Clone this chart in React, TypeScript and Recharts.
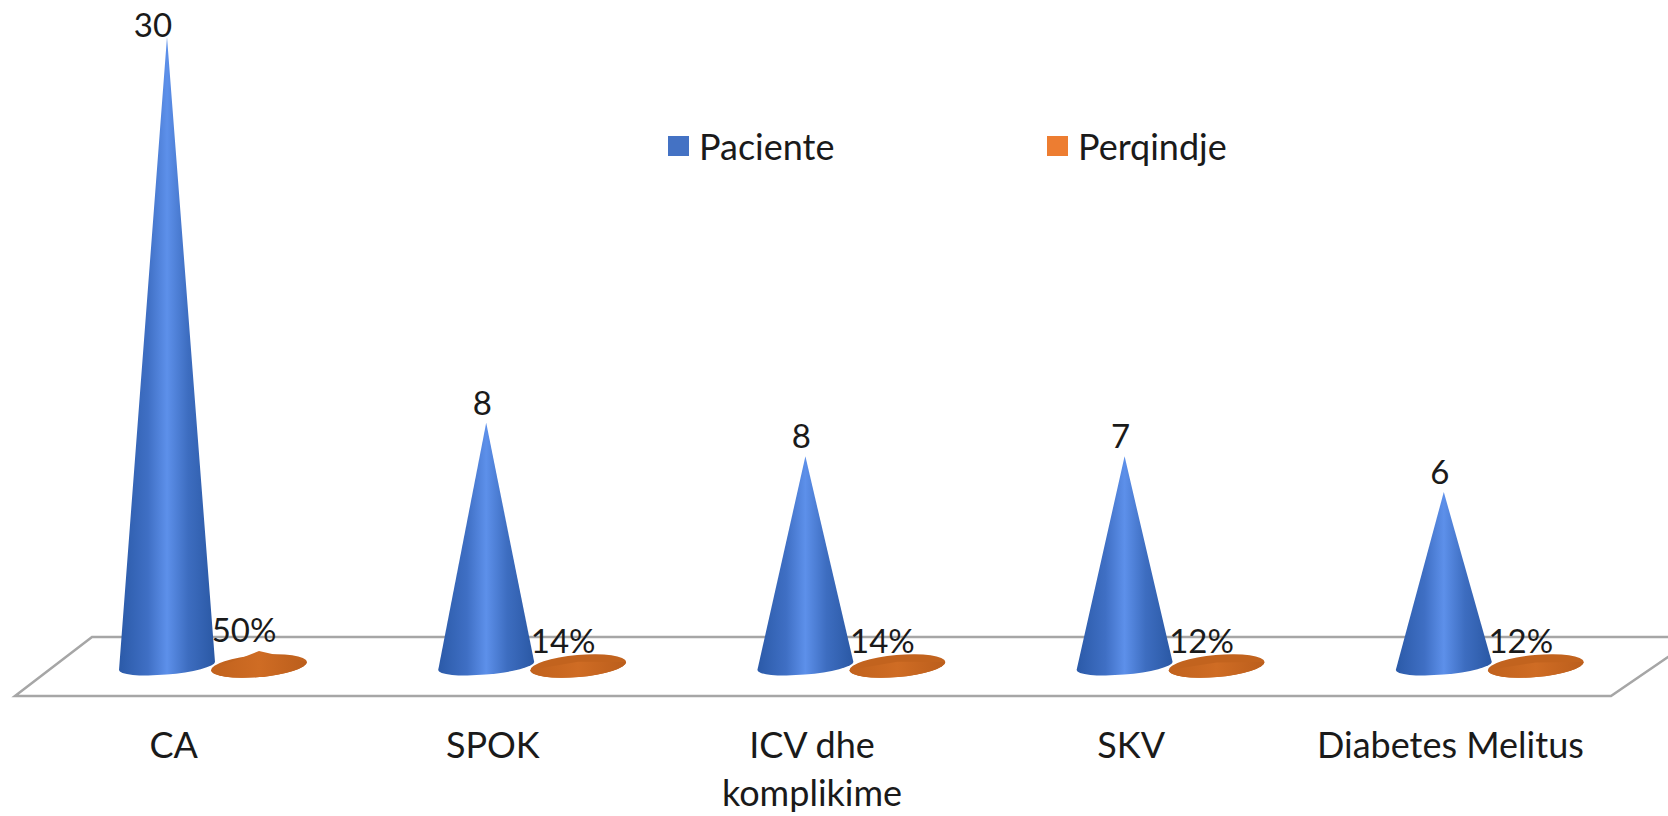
import { BarChart, Bar, XAxis, YAxis, Legend, LabelList, Customized } from 'recharts';

const categories = ['CA', 'SPOK', 'ICV dhe komplikime', 'SKV', 'Diabetes Melitus'];
// Printed labels. The reference's cones are not proportional to them (two "8"s differ in height),
// so the cone heights below are read from the picture separately.
const patientLabels = [30, 8, 8, 7, 6];
const patientHeights = [30, 11.6, 10, 10, 8.3];
const percentages = [50, 14, 14, 12, 12];

const chartData = categories.map((name, i) => ({
  name,
  patients: patientHeights[i],
  patientLabel: patientLabels[i],
  percent: percentages[i],
}));

const FONT = 'Lato, sans-serif';
const TEXT_COLOR = '#1a1a1a';
const WIDTH = 1668;
const HEIGHT = 816;

const cone = (cx: number, tipY: number, baseY: number, r: number, ry: number) => {
  const rightY = baseY - 4;
  const leftY = baseY + 4;
  const sides = `L${cx + r},${rightY} A${r},${ry} -5 0 1 ${cx - r},${leftY} Z`;
  return `M${cx},${tipY} ${sides}`;
};

const BlueCone = ({ x, y, width, height }: any) => {
  const cx = x + width / 2;
  return <path d={cone(cx, y, y + height, 48, 8.5)} fill="url(#blueCone)" />;
};

const OrangeCone = ({ x, y, width, height }: any) => {
  const cx = x + width / 2;
  const baseY = y + height;
  return (
    <g>
      <ellipse cx={cx} cy={baseY} rx={48} ry={11} transform={`rotate(-5 ${cx} ${baseY})`} fill="#c2631e" />
      <path d={cone(cx, y, baseY, 48, 11)} fill="url(#orangeCone)" />
    </g>
  );
};

const PatientLabel = ({ x, y, width, value }: any) => {
  const clamped = y - 21 < 24;
  return (
    <text
      x={x + width / 2 + (clamped ? -14 : -4)}
      y={clamped ? 24 : y - 21}
      textAnchor="middle"
      dominantBaseline="central"
      fontFamily={FONT}
      fontSize={33}
      fill={TEXT_COLOR}
    >
      {value}
    </text>
  );
};

const PercentLabel = ({ x, y, width, value }: any) => (
  <text
    x={x + width / 2 - 15}
    y={y - 22}
    textAnchor="middle"
    dominantBaseline="central"
    fontFamily={FONT}
    fontSize={33}
    fill={TEXT_COLOR}
  >
    {value}%
  </text>
);

// Names too long for one line break after the second word
const tickLines = (name: string) => {
  const words = name.split(' ');
  return name.length > 16 ? [words.slice(0, 2).join(' '), words.slice(2).join(' ')] : [name];
};

const CategoryTick = ({ x, y, payload }: any) => (
  <text x={x - 39} y={y + 84} textAnchor="middle" fontFamily={FONT} fontSize={36} fill={TEXT_COLOR}>
    {tickLines(payload.value).map((line, i) => (
      <tspan key={line} x={x - 39} dy={i === 0 ? 0 : 48}>
        {line}
      </tspan>
    ))}
  </text>
);

const Floor = () => (
  <polygon points="15,696 92,637 1697,637 1611,696" fill="none" stroke="#a6a6a6" strokeWidth={2.5} />
);

const ChartLegend = ({ payload }: any) => (
  <div style={{ display: 'flex', fontFamily: FONT, fontSize: 36, color: TEXT_COLOR, lineHeight: '44px' }}>
    {(payload || []).map((item: any) => (
      <div key={item.value} style={{ width: 379, display: 'flex', alignItems: 'center' }}>
        <span style={{ width: 21, height: 20, background: item.color, marginRight: 10 }} />
        {item.value}
      </div>
    ))}
  </div>
);

export default function App() {
  return (
    <div style={{ width: WIDTH, height: HEIGHT, background: '#ffffff', position: 'relative' }}>
      <style>{'body { margin: 0; overflow: hidden; }'}</style>
      <BarChart
        width={WIDTH}
        height={HEIGHT}
        data={chartData}
        barSize={92}
        barGap={0}
        barCategoryGap={0}
        margin={{ top: 37, right: 19, bottom: 0, left: 53 }}
      >
        <defs>
          <linearGradient id="blueCone" x1="0" y1="0" x2="1" y2="0">
            <stop offset="0" stopColor="#2b5aa8" />
            <stop offset="0.3" stopColor="#3f6fc4" />
            <stop offset="0.5" stopColor="#5d90ea" />
            <stop offset="0.72" stopColor="#3d6dc0" />
            <stop offset="1" stopColor="#2a58a4" />
          </linearGradient>
          <linearGradient id="orangeCone" x1="0" y1="0" x2="1" y2="0">
            <stop offset="0" stopColor="#c1621d" />
            <stop offset="0.5" stopColor="#cf6c24" />
            <stop offset="1" stopColor="#bb5e1c" />
          </linearGradient>
        </defs>
        <Customized component={Floor} />
        <XAxis
          dataKey="name"
          height={150}
          interval={0}
          axisLine={false}
          tickLine={false}
          tick={CategoryTick}
        />
        <YAxis yAxisId="patients" hide domain={[0, 30]} />
        <YAxis yAxisId="percent" hide orientation="right" domain={[0, 2097]} />
        <Legend
          layout="vertical"
          align="center"
          verticalAlign="middle"
          content={ChartLegend}
          wrapperStyle={{ position: 'absolute', left: 668, top: 124, width: 760, bottom: 'auto' }}
        />
        <Bar
          yAxisId="patients"
          dataKey="patients"
          name="Paciente"
          fill="#4472c4"
          shape={BlueCone}
          isAnimationActive={false}
        >
          <LabelList dataKey="patientLabel" content={PatientLabel} />
        </Bar>
        <Bar
          yAxisId="percent"
          dataKey="percent"
          name="Perqindje"
          fill="#ed7d31"
          shape={OrangeCone}
          isAnimationActive={false}
        >
          <LabelList dataKey="percent" content={PercentLabel} />
        </Bar>
      </BarChart>
    </div>
  );
}
